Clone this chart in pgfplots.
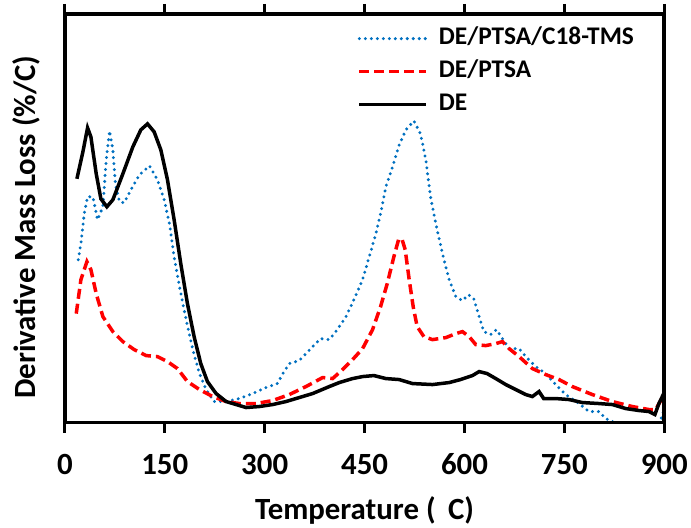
\documentclass[border=0pt]{standalone}
\usepackage{pgfplots}
\pgfplotsset{compat=1.18}
\usepackage{fontspec}
\setmainfont{Carlito}
\definecolor{myblue}{RGB}{0,112,192}
\definecolor{myred}{RGB}{255,0,0}
\begin{document}
\begin{tikzpicture}
\begin{axis}[
  name=main,
  scale only axis, width=600bp, height=409bp,
  xmin=0, xmax=900, ymin=0, ymax=409,
  xtick={0,150,...,900}, ytick=\empty,
  tick align=outside, major tick length=10bp,
  axis line style={line width=3.5bp},
  every tick/.style={line width=3bp, black},
  /pgf/number format/assume math mode=true,
  tick label style={font=\fontsize{31}{31}\selectfont\bfseries},
  xticklabel style={anchor=base, yshift=-42bp},
  xlabel={Temperature (\hspace{0.4em}C)},
  ylabel={Derivative Mass Loss (\%/C)},
  label style={font=\fontsize{31}{31}\selectfont\bfseries},
  xlabel style={at={(axis description cs:0.5,-0.237)}, anchor=base},
  ylabel style={at={(axis description cs:-0.065,0.478)}, anchor=center, rotate=0},
  legend style={draw=none, fill=none, at={(axis description cs:0.4883,0.969)}, anchor=north west,
    font=\fontsize{25.5}{28}\selectfont\bfseries, row sep=9bp, column sep=11bp,
    inner sep=0pt, outer sep=0pt,
    nodes={inner sep=0pt, text height=18bp, text depth=6bp}},
  legend cell align=left,
  legend image code/.code={\draw[#1] (0bp,0bp) -- (67bp,0bp);},
]
\addplot[myblue, line width=3.3bp, line cap=round, dash pattern=on 0bp off 6bp] coordinates {
(20,163)(24,179)(29,209)(34,226)(42,226)(49,203)(57,216)(62,263)(67,292)(72,273)(76,238)(82,221)(89,220)(99,233)(112,248)(127,257)(139,243)(149,223)(157,199)(164,166)(172,136)(182,103)(192,73)(202,49)(212,33)(224,21)(242,21)(262,24)(282,29)(302,35)(319,39)(329,51)(337,59)(352,62)(372,76)(384,84)(397,83)(409,93)(422,106)(434,123)(447,143)(457,166)(467,189)(474,209)(482,236)(492,256)(502,278)(512,293)(524,302)(534,289)(542,263)(549,226)(557,199)(567,169)(577,143)(587,126)(597,122)(606,128)(614,124)(622,106)(629,91)(639,88)(648,93)(657,84)(667,74)(682,74)(692,66)(707,56)(722,49)(737,38)(752,28)(772,19)(787,11)(802,11)(812,4)(822,1)(840,-2)(870,-3)(893,-2)(897,8)(900,12)
};
\addlegendentry{DE/PTSA/C18-TMS}
\addplot[myred, line width=3.5bp, dash pattern=on 10bp off 5bp] coordinates {
(17,109)(24,143)(33,161)(39,153)(47,129)(57,106)(72,91)(87,81)(104,73)(122,67)(139,66)(154,61)(169,54)(184,41)(202,33)(222,26)(242,21)(262,19)(287,19)(312,22)(337,28)(362,36)(387,45)(402,44)(417,53)(432,63)(447,74)(462,93)(474,116)(484,139)(494,166)(501,183)(506,184)(511,173)(517,143)(523,116)(529,96)(539,86)(552,83)(572,85)(587,89)(597,91)(607,86)(617,78)(632,77)(647,79)(657,81)(667,74)(682,66)(702,54)(722,48)(742,43)(762,36)(792,28)(822,21)(852,16)(877,13)(887,13)(894,21)(900,29)
};
\addlegendentry{DE/PTSA}
\addplot[black, line width=3.5bp] coordinates {
(18,244)(27,271)(34,295)(39,286)(47,249)(54,224)(63,216)(72,223)(87,249)(102,276)(114,293)(124,299)(134,291)(144,273)(154,243)(164,203)(174,159)(184,119)(194,86)(204,59)(214,41)(227,29)(242,21)(257,18)(272,15)(292,16)(312,18)(332,21)(347,24)(372,29)(397,36)(412,40)(432,44)(447,46)(464,47)(482,44)(502,43)(522,39)(552,38)(577,40)(594,43)(612,47)(622,51)(634,49)(647,44)(662,38)(677,33)(692,28)(702,26)(712,31)(719,24)(737,24)(757,23)(777,20)(802,19)(822,18)(842,14)(862,12)(877,11)(886,8)(892,19)(900,30)
};
\addlegendentry{DE}
\end{axis}
\draw[line width=3.5bp] (main.south west) rectangle (main.north east);
\path (main.south west) ++(-65bp,-102bp) coordinate (bbA);
\path (main.north east) ++(26bp,14bp) coordinate (bbB);
\path[use as bounding box] (bbA) rectangle (bbB);
\end{tikzpicture}
\end{document}
